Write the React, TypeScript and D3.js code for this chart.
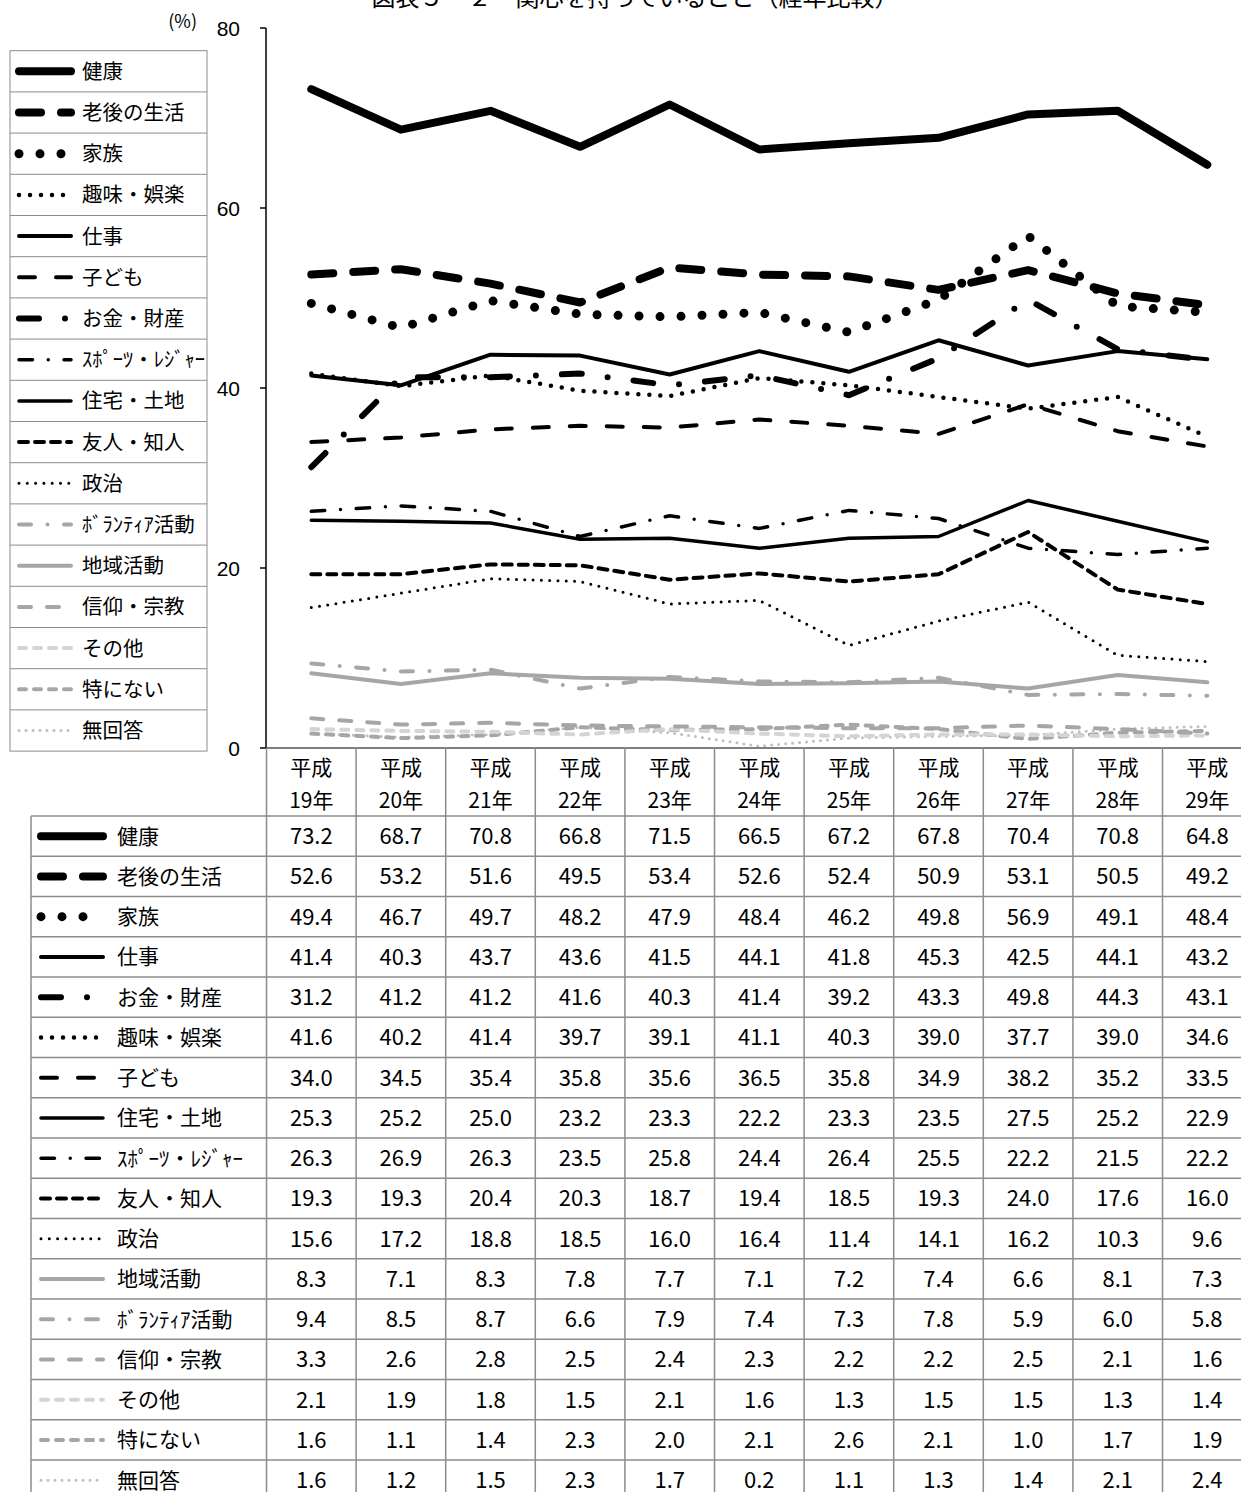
import React from "react";
import * as d3 from "d3";

// Survey years (Heisei era) and answer shares in percent
const years = ["19年", "20年", "21年", "22年", "23年", "24年", "25年", "26年", "27年", "28年", "29年"];
const yTicks = [0, 20, 40, 60, 80];

const kenko = [73.2, 68.7, 70.8, 66.8, 71.5, 66.5, 67.2, 67.8, 70.4, 70.8, 64.8];
const rogo = [52.6, 53.2, 51.6, 49.5, 53.4, 52.6, 52.4, 50.9, 53.1, 50.5, 49.2];
const kazoku = [49.4, 46.7, 49.7, 48.2, 47.9, 48.4, 46.2, 49.8, 56.9, 49.1, 48.4];
const shigoto = [41.4, 40.3, 43.7, 43.6, 41.5, 44.1, 41.8, 45.3, 42.5, 44.1, 43.2];
const okane = [31.2, 41.2, 41.2, 41.6, 40.3, 41.4, 39.2, 43.3, 49.8, 44.3, 43.1];
const shumi = [41.6, 40.2, 41.4, 39.7, 39.1, 41.1, 40.3, 39.0, 37.7, 39.0, 34.6];
const kodomo = [34.0, 34.5, 35.4, 35.8, 35.6, 36.5, 35.8, 34.9, 38.2, 35.2, 33.5];
const jutaku = [25.3, 25.2, 25.0, 23.2, 23.3, 22.2, 23.3, 23.5, 27.5, 25.2, 22.9];
const sports = [26.3, 26.9, 26.3, 23.5, 25.8, 24.4, 26.4, 25.5, 22.2, 21.5, 22.2];
const yujin = [19.3, 19.3, 20.4, 20.3, 18.7, 19.4, 18.5, 19.3, 24.0, 17.6, 16.0];
const seiji = [15.6, 17.2, 18.8, 18.5, 16.0, 16.4, 11.4, 14.1, 16.2, 10.3, 9.6];
const chiiki = [8.3, 7.1, 8.3, 7.8, 7.7, 7.1, 7.2, 7.4, 6.6, 8.1, 7.3];
const volunteer = [9.4, 8.5, 8.7, 6.6, 7.9, 7.4, 7.3, 7.8, 5.9, 6.0, 5.8];
const shinko = [3.3, 2.6, 2.8, 2.5, 2.4, 2.3, 2.2, 2.2, 2.5, 2.1, 1.6];
const sonota = [2.1, 1.9, 1.8, 1.5, 2.1, 1.6, 1.3, 1.5, 1.5, 1.3, 1.4];
const tokuninai = [1.6, 1.1, 1.4, 2.3, 2.0, 2.1, 2.6, 2.1, 1.0, 1.7, 1.9];
const mukaito = [1.6, 1.2, 1.5, 2.3, 1.7, 0.2, 1.1, 1.3, 1.4, 2.1, 2.4];

type Style = { color: string; width: number; dash?: string };
const BLACK = "#000";
const GRAY = "#a6a6a6";
const LIGHT = "#d4d4d4";

type Series = { name: string; values: number[]; style: Style };

// Rows in table order
const series: Series[] = [
  { name: "健康", values: kenko, style: { color: BLACK, width: 8 } },
  { name: "老後の生活", values: rogo, style: { color: BLACK, width: 8, dash: "22 20" } },
  { name: "家族", values: kazoku, style: { color: BLACK, width: 9, dash: "0 21" } },
  { name: "仕事", values: shigoto, style: { color: BLACK, width: 4 } },
  { name: "お金・財産", values: okane, style: { color: BLACK, width: 6, dash: "20 26 0 26" } },
  { name: "趣味・娯楽", values: shumi, style: { color: BLACK, width: 4.5, dash: "0 11" } },
  { name: "子ども", values: kodomo, style: { color: BLACK, width: 4, dash: "16 21" } },
  { name: "住宅・土地", values: jutaku, style: { color: BLACK, width: 3.5 } },
  { name: "ｽﾎﾟｰﾂ・ﾚｼﾞｬｰ", values: sports, style: { color: BLACK, width: 3.5, dash: "13.5 15.75 0 15.75" } },
  { name: "友人・知人", values: yujin, style: { color: BLACK, width: 4, dash: "9 7" } },
  { name: "政治", values: seiji, style: { color: BLACK, width: 3, dash: "0 8.3" } },
  { name: "地域活動", values: chiiki, style: { color: GRAY, width: 4 } },
  { name: "ﾎﾞﾗﾝﾃｨｱ活動", values: volunteer, style: { color: GRAY, width: 4, dash: "12 16.5 0 16.5" } },
  { name: "信仰・宗教", values: shinko, style: { color: GRAY, width: 4, dash: "12 16" } },
  { name: "その他", values: sonota, style: { color: LIGHT, width: 4, dash: "7 8" } },
  { name: "特にない", values: tokuninai, style: { color: GRAY, width: 4, dash: "7 8" } },
  { name: "無回答", values: mukaito, style: { color: "#bfbfbf", width: 3, dash: "0 7" } },
];

// Legend order beside the plot
const legendOrder = [
  "健康", "老後の生活", "家族", "趣味・娯楽", "仕事", "子ども", "お金・財産", "ｽﾎﾟｰﾂ・ﾚｼﾞｬｰ",
  "住宅・土地", "友人・知人", "政治", "ﾎﾞﾗﾝﾃｨｱ活動", "地域活動", "信仰・宗教", "その他", "特にない", "無回答",
];

const W = 1241;
const H = 1492;
const JP = "'Noto Sans CJK JP', 'Noto Sans', sans-serif";
const NUM = "'Liberation Sans', Arial, sans-serif";
const GRID = "#8c8c8c";

const x = d3.scaleBand<string>().domain(years).range([266.5, 266.5 + 89.6 * years.length]).padding(0);
const y = d3.scaleLinear().domain([0, 80]).range([748, 28]);
const cx = (yr: string) => (x(yr) as number) + x.bandwidth() / 2;

const line = d3
  .line<number>()
  .x((_, i) => cx(years[i]))
  .y((v) => y(v));

const legendTop = 50.7;
const legendRow = 41.2;
const tableTop = 816;
const tableRow = 40.25;
const tableLeft = 31;

function Sample({ s, x1, x2, yy }: { s: Style; x1: number; x2: number; yy: number }) {
  return (
    <line
      x1={x1}
      x2={x2}
      y1={yy}
      y2={yy}
      stroke={s.color}
      strokeWidth={s.width}
      strokeDasharray={s.dash}
      strokeLinecap="round"
    />
  );
}

export default function App() {
  const byName = new Map(series.map((s) => [s.name, s]));
  const tableRight = W;
  return (
    <svg
      width={W}
      height={H}
      viewBox={`0 0 ${W} ${H}`}
      style={{ position: "absolute", left: 0, top: 0, background: "#fff" }}
    >
      {/* title */}
      <text x={635} y={6} textAnchor="middle" fontFamily={JP} fontSize={24} fill="#000">
        図表５－２　関心を持っていること（経年比較）
      </text>

      {/* y axis */}
      <line x1={266} x2={266} y1={y(80)} y2={y(0)} stroke="#000" strokeWidth={1.5} />
      {yTicks.map((t) => (
        <g key={t}>
          <line x1={260} x2={266} y1={y(t)} y2={y(t)} stroke="#000" strokeWidth={1.5} />
          <text x={240} y={y(t) + 7.5} textAnchor="end" fontFamily={NUM} fontSize={21}>
            {t}
          </text>
        </g>
      ))}
      <text x={197} y={28} textAnchor="end" fontFamily={JP} fontSize={18}>
        (%)
      </text>

      {/* lines */}
      {[...series].reverse().map((s) => (
        <path
          key={s.name}
          d={line(s.values) ?? ""}
          fill="none"
          stroke={s.style.color}
          strokeWidth={s.style.width}
          strokeDasharray={s.style.dash}
          strokeLinecap="round"
          strokeLinejoin="round"
        />
      ))}

      {/* legend box */}
      <g>
        <rect
          x={10}
          y={legendTop}
          width={197}
          height={legendRow * legendOrder.length}
          fill="#fff"
          stroke={GRID}
          strokeWidth={1}
        />
        {legendOrder.map((name, i) => {
          const s = byName.get(name)!;
          const cy = legendTop + legendRow * (i + 0.5);
          return (
            <g key={name}>
              {i > 0 && (
                <line x1={10} x2={207} y1={legendTop + legendRow * i} y2={legendTop + legendRow * i} stroke={GRID} />
              )}
              <Sample s={s.style} x1={19} x2={71} yy={cy} />
              <text x={82} y={cy + 7.5} fontFamily={JP} fontSize={20.5}>
                {name}
              </text>
            </g>
          );
        })}
      </g>

      {/* data table */}
      <g>
        {/* header row */}
        <line x1={266} x2={tableRight} y1={748} y2={748} stroke="#555" strokeWidth={1.5} />
        {years.map((yr) => (
          <g key={yr}>
            <text x={cx(yr)} y={775} textAnchor="middle" fontFamily={JP} fontSize={21}>
              平成
            </text>
            <text x={cx(yr)} y={808} textAnchor="middle" fontFamily={JP} fontSize={21}>
              {yr}
            </text>
          </g>
        ))}
        {/* vertical lines */}
        {years.map((yr) => (
          <line
            key={"v" + yr}
            x1={x(yr) as number}
            x2={x(yr) as number}
            y1={748}
            y2={H}
            stroke={GRID}
            strokeWidth={1.5}
          />
        ))}
        <line x1={tableLeft} x2={tableLeft} y1={tableTop} y2={H} stroke={GRID} strokeWidth={1.5} />
        {series.map((s, i) => {
          const top = tableTop + tableRow * i;
          const cy = top + tableRow / 2;
          return (
            <g key={"r" + s.name}>
              <line x1={tableLeft} x2={tableRight} y1={top} y2={top} stroke={GRID} strokeWidth={1.5} />
              <Sample s={s.style} x1={41} x2={103} yy={cy} />
              <text x={117} y={cy + 7.5} fontFamily={JP} fontSize={21}>
                {s.name}
              </text>
              {s.values.map((v, j) => (
                <text
                  key={j}
                  x={cx(years[j])}
                  y={cy + 8}
                  textAnchor="middle"
                  fontFamily={JP}
                  fontSize={22}
                >
                  {v.toFixed(1)}
                </text>
              ))}
            </g>
          );
        })}
      </g>
    </svg>
  );
}
